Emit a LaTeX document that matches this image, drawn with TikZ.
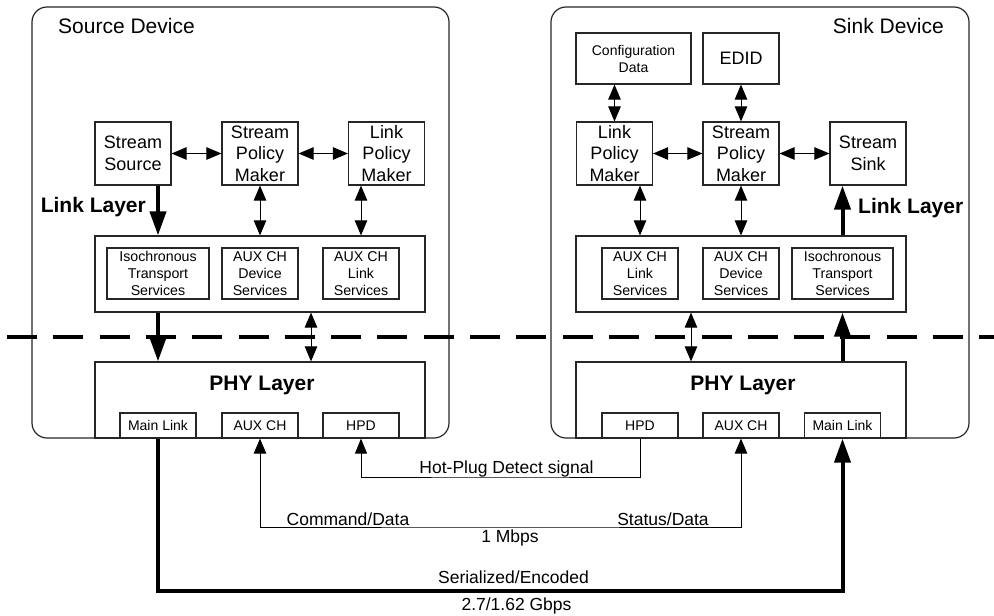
\documentclass[tikz,border=0pt]{standalone}
\usepackage{fontspec}
\setmainfont{Liberation Sans}
\usetikzlibrary{arrows.meta,calc}
\begin{document}
\begin{tikzpicture}[x=1pt,y=-1pt,
  box/.style={draw=black!85, line width=1.2pt, inner sep=0pt, align=center, minimum height=63pt, minimum width=76pt, font=\fontsize{18}{21.5}\selectfont},
  small/.style={box, minimum height=51pt, font=\fontsize{14.2}{17}\selectfont},
  port/.style={box, minimum height=25pt, font=\fontsize{14}{17}\selectfont},
  layer/.style={draw=black!85, line width=1.2pt, inner sep=0pt, minimum width=330pt, minimum height=76pt},
  device/.style={draw=black!85, line width=1.2pt, rounded corners=15pt, inner sep=0pt, minimum height=431pt},
  darr/.style={line width=1pt, {Triangle[length=15pt,width=12.5pt]}-{Triangle[length=15pt,width=12.5pt]}},
  sarr/.style={line width=1pt, -{Triangle[length=15pt,width=12pt]}},
  thk/.style={line width=4pt, -{Triangle[length=24pt,width=16pt]}},
  big/.style={inner sep=0pt, font=\fontsize{21}{25}\selectfont},
  bigb/.style={inner sep=0pt, font=\fontsize{21}{25}\selectfont\bfseries},
  lbl/.style={inner sep=0pt, font=\fontsize{17.5}{21}\selectfont},
]
\useasboundingbox (0,0) rectangle (994,616);

% devices
\node[device, minimum width=417pt] (srcdev) at (240.5,222.5) {};
\node[device, minimum width=418pt] (snkdev) at (760,222.5) {};
\node[big, anchor=base west] (srctitle) at (58,33) {Source Device};
\node[big, anchor=base east] (snktitle) at (944,33) {Sink Device};

% ---------- source side ----------
\node[box] (ss) at (133,153.5) {Stream\\Source};
\node[box] (spm) at (260,153.5) {Stream\\Policy\\Maker};
\node[box] (lpm) at (386.5,153.5) {Link\\Policy\\Maker};
\node[layer] (cont) at (260,274) {};
\node[small, minimum width=102pt] (iso) at (158,273.5) {Isochronous\\Transport\\Services};
\node[small] (auxd) at (260,273.5) {AUX CH\\Device\\Services};
\node[small] (auxl) at (361,273.5) {AUX CH\\Link\\Services};
\node[layer] (phy) at (260,400) {};
\node[bigb, anchor=base] (phyt) at (262,390) {PHY Layer};
\node[port] (ml) at (158,425.5) {Main Link};
\node[port] (aux) at (260,425.5) {AUX CH};
\node[port] (hpd) at (361,425.5) {HPD};
\node[bigb, anchor=base east] (ll) at (146,212) {Link Layer};

\draw[darr] (ss.east) -- (spm.west);
\draw[darr] (spm.east) -- (lpm.west);
\draw[darr] (spm.south) -- (cont.north -| spm.south);
\draw[darr] (lpm.south -| auxl.north) -- (cont.north -| auxl.north);
\draw[thk] (ss.south -| iso.north) -- (cont.north -| iso.north);
\draw[thk] (cont.south -| iso.north) -- (phy.north -| iso.north);
\coordinate (sx) at (311,0);
\draw[darr] (cont.south -| sx) -- (phy.north -| sx);

% ---------- sink side ----------
\node[box, minimum height=51pt, minimum width=115pt, font=\fontsize{14}{17}\selectfont] (cfg) at (633.5,58.5) {Configuration\\Data};
\node[box, minimum height=51pt, font=\fontsize{18}{21}\selectfont] (edid) at (741,58.5) {EDID};
\node[box] (lpm2) at (614.5,153.5) {Link\\Policy\\Maker};
\node[box] (spm2) at (741,153.5) {Stream\\Policy\\Maker};
\node[box] (ssk) at (868,153.5) {Stream\\Sink};
\node[layer] (cont2) at (741,274) {};
\node[small] (auxl2) at (640,273.5) {AUX CH\\Link\\Services};
\node[small] (auxd2) at (741,273.5) {AUX CH\\Device\\Services};
\node[small, minimum width=101pt] (iso2) at (842.5,273.5) {Isochronous\\Transport\\Services};
\node[layer] (phy2) at (741,400) {};
\node[bigb, anchor=base] (phyt2) at (743,390) {PHY Layer};
\node[port] (hpd2) at (640,425.5) {HPD};
\node[port] (aux2) at (741,425.5) {AUX CH};
\node[port] (ml2) at (842.5,425.5) {Main Link};
\node[bigb, anchor=base west] (ll2) at (858,213) {Link Layer};

\draw[darr] (cfg.south -| lpm2.north) -- (lpm2.north);
\draw[darr] (edid.south) -- (spm2.north);
\draw[darr] (lpm2.east) -- (spm2.west);
\draw[darr] (spm2.east) -- (ssk.west);
\draw[darr] (lpm2.south -| auxl2.north) -- (cont2.north -| auxl2.north);
\draw[darr] (spm2.south) -- (cont2.north -| spm2.south);
\draw[thk] (cont2.north -| iso2.north) -- (ssk.south -| iso2.north);
\draw[thk] (phy2.north -| iso2.north) -- (cont2.south -| iso2.north);
\coordinate (kx) at (691,0);
\draw[darr] (cont2.south -| kx) -- (phy2.north -| kx);

% ---------- dashed boundary ----------
\coordinate (dl) at (7,337);
\coordinate (dr) at (1000,337);
\draw[line width=3.5pt, dash pattern=on 30pt off 16.3pt] (dl) -- (dr);

% ---------- external links ----------
\coordinate (hy) at (500,477);
\coordinate (ay) at (500,527);
\coordinate (my) at (500,591);
\draw[sarr] (hpd2.south) |- (hy) -| (hpd.south);
\draw[darr] (aux.south) |- (ay) -| (aux2.south);
\draw[thk, line join=miter] (ml.south) |- (my) -| (ml2.south);

\node[lbl, anchor=base] (hpdl) at (506.5,473) {Hot-Plug Detect signal};
\node[lbl, anchor=base] (cmdl) at (348,525) {Command/Data};
\node[lbl, anchor=base] (stl) at (663,525) {Status/Data};
\node[lbl, anchor=base] (mbl) at (510,542) {1 Mbps};
\node[lbl, anchor=base] (serl) at (513.5,583) {Serialized/Encoded};
\node[lbl, anchor=base] (gbl) at (516.5,610) {2.7/1.62 Gbps};
\end{tikzpicture}
\end{document}
